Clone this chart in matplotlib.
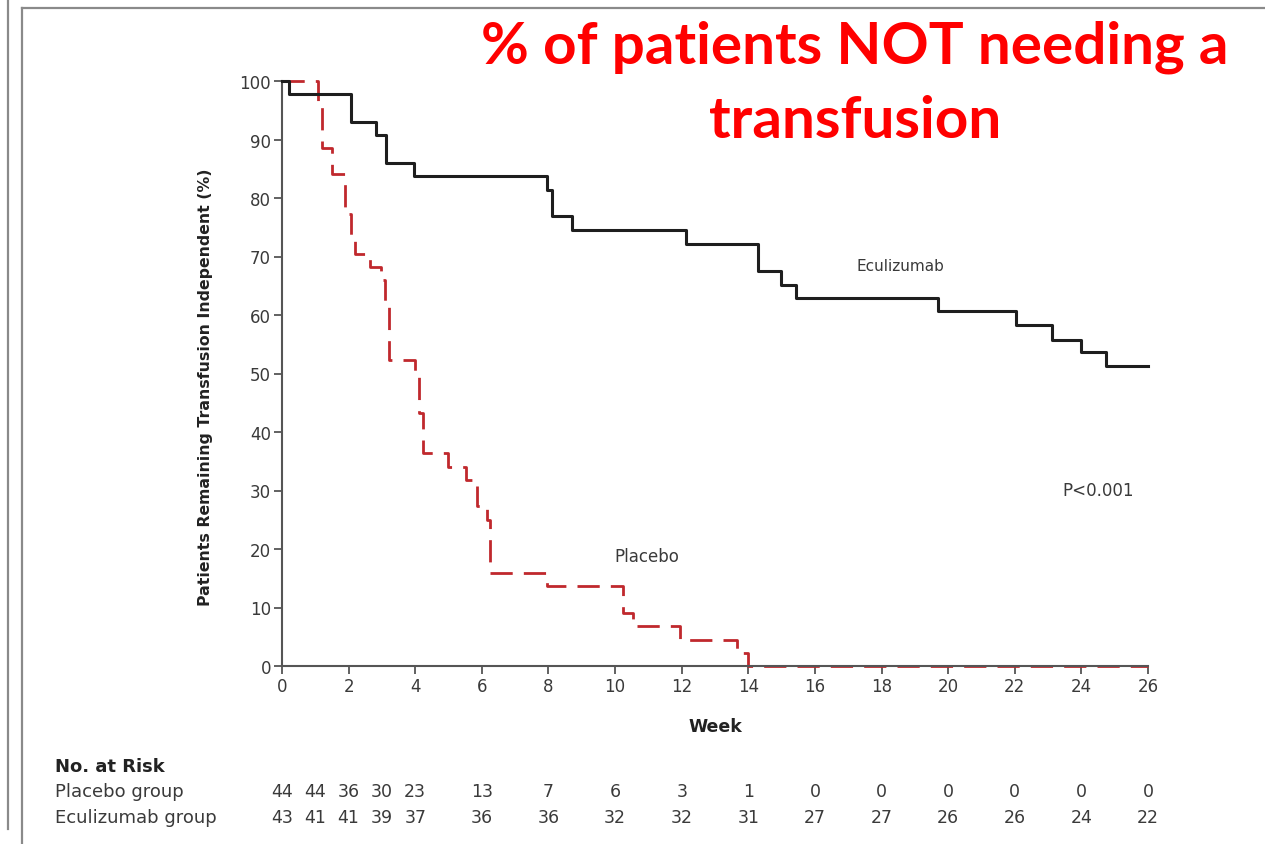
import matplotlib
matplotlib.use("Agg")
import matplotlib.pyplot as plt
from matplotlib.lines import Line2D

# Kaplan-Meier style curves (week, % remaining transfusion independent)
eculizumab_weeks = [0, 0.2, 2.07, 2.82, 3.12, 3.97, 7.95, 8.1, 8.72, 12.13, 14.28,
                    14.97, 15.42, 19.7, 22.03, 23.13, 24.0, 24.73, 26]
eculizumab_pct = [100, 97.7, 93.0, 90.7, 86.0, 83.7, 81.4, 76.9, 74.6, 72.1, 67.5,
                  65.1, 62.9, 60.6, 58.3, 55.8, 53.6, 51.2, 51.2]

placebo_weeks = [0, 1.08, 1.2, 1.5, 1.9, 2.07, 2.2, 2.64, 2.97, 3.1, 3.2, 3.99, 4.1,
                 4.24, 4.99, 5.53, 5.85, 6.15, 6.25, 7.95, 10.25, 10.55, 11.95,
                 13.65, 14.0, 26]
placebo_pct = [100, 95.5, 88.6, 84.1, 77.3, 72.7, 70.5, 68.2, 65.9, 61.4, 52.3, 50.0,
               43.2, 36.4, 34.1, 31.8, 27.3, 25.0, 15.9, 13.6, 9.1, 6.8, 4.5, 2.3, 0, 0]

x_ticks = [0, 2, 4, 6, 8, 10, 12, 14, 16, 18, 20, 22, 24, 26]
y_ticks = [0, 10, 20, 30, 40, 50, 60, 70, 80, 90, 100]

risk_weeks = [0, 1, 2, 3, 4, 6, 8, 10, 12, 14, 16, 18, 20, 22, 24, 26]
risk_placebo = [44, 44, 36, 30, 23, 13, 7, 6, 3, 1, 0, 0, 0, 0, 0, 0]
risk_eculizumab = [43, 41, 41, 39, 37, 36, 36, 32, 32, 31, 27, 27, 26, 26, 24, 22]

FONT = ["DejaVu Sans"]
TITLE_FONT = ["Lato", "Open Sans", "DejaVu Sans"]
GREY = "#3a3a3a"

W, H = 1265, 845
fig = plt.figure(figsize=(W / 100, H / 100), dpi=100)

# outer frame lines of the screenshot
fig.add_artist(Line2D([8 / W, 8 / W], [1, 1 - 830 / H], color="#8a8a8a", lw=1.6))
fig.add_artist(Line2D([22 / W, 22 / W], [0, 1 - 9 / H], color="#8a8a8a", lw=1.6))
fig.add_artist(Line2D([22 / W, 1], [1 - 9 / H, 1 - 9 / H], color="#8a8a8a", lw=1.6))

ax = fig.add_axes([282 / W, 1 - 667 / H, (1148 - 282) / W, (667 - 82) / H])
ax.set_xlim(0, 26)
ax.set_ylim(0, 100)

ax.step(eculizumab_weeks, eculizumab_pct, where="post", color="#1e1e1e",
        lw=2.2, clip_on=False, zorder=3)
ax.step(placebo_weeks, placebo_pct, where="post", color="#c0282d",
        lw=2.0, dashes=(8, 4), clip_on=False, zorder=2)

for side in ["top", "right"]:
    ax.spines[side].set_visible(False)
for side in ["left", "bottom"]:
    ax.spines[side].set_color("#555555")
    ax.spines[side].set_linewidth(1.5)

ax.set_xticks(x_ticks)
ax.set_yticks(y_ticks)
ax.tick_params(axis="both", direction="out", length=6, width=1.3, color="#555555",
               labelsize=12, labelcolor=GREY, pad=2)
for lab in ax.get_xticklabels() + ax.get_yticklabels():
    lab.set_family(FONT)

ax.set_xlabel("Week", fontsize=12.5, fontweight="bold", family=FONT, color="#222222",
              labelpad=16)
ax.set_ylabel("Patients Remaining Transfusion Independent (%)", fontsize=11.3,
              fontweight="bold", family=FONT, color="#222222")
ax.yaxis.set_label_coords(-0.08, 0.478)

ax.text(18.58, 68.5, "Eculizumab", ha="center", va="center", fontsize=11,
        color=GREY, family=FONT)
ax.text(10.96, 18.8, "Placebo", ha="center", va="center", fontsize=12,
        color=GREY, family=FONT)
ax.text(24.5, 30.1, "P<0.001", ha="center", va="center", fontsize=12,
        color=GREY, family=FONT)

# red annotation title
fig.text(855 / W, 1 - 47 / H, "% of patients NOT needing a", ha="center", va="center",
         fontsize=42, fontweight="bold", color="#ff0000", family=TITLE_FONT)
fig.text(855 / W, 1 - 122 / H, "transfusion", ha="center", va="center",
         fontsize=42, fontweight="bold", color="#ff0000", family=TITLE_FONT)

# number at risk table
fig.text(55 / W, 1 - 767 / H, "No. at Risk", ha="left", va="center", fontsize=13,
         fontweight="bold", color="#222222", family=FONT)
fig.text(55 / W, 1 - 792 / H, "Placebo group", ha="left", va="center", fontsize=13,
         color=GREY, family=FONT)
fig.text(55 / W, 1 - 818 / H, "Eculizumab group", ha="left", va="center", fontsize=13,
         color=GREY, family=FONT)

trans = ax.get_xaxis_transform()
for wk, p, e in zip(risk_weeks, risk_placebo, risk_eculizumab):
    ax.text(wk, -(792 - 667) / (667 - 82), str(p), transform=trans, ha="center",
            va="center", fontsize=12.5, color=GREY, family=FONT, clip_on=False)
    ax.text(wk, -(818 - 667) / (667 - 82), str(e), transform=trans, ha="center",
            va="center", fontsize=12.5, color=GREY, family=FONT, clip_on=False)

fig.savefig("out.png", dpi=100)
